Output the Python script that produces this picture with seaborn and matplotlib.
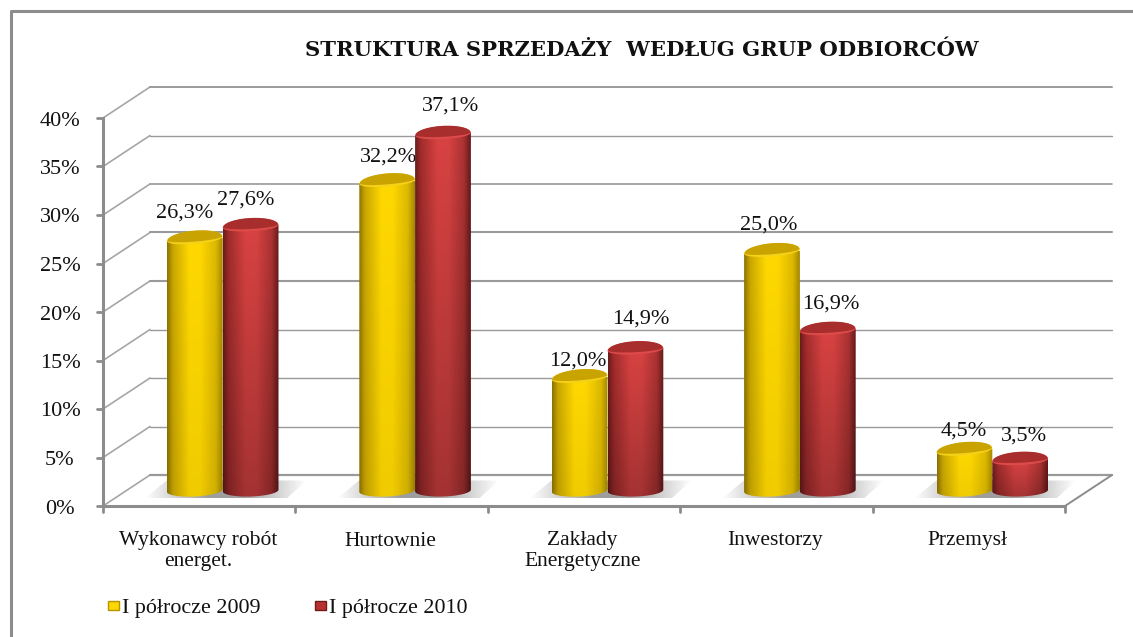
import numpy as np
import pandas as pd
import seaborn as sns
import matplotlib.pyplot as plt
from matplotlib.colors import to_rgb
from matplotlib.patches import Polygon, Rectangle

categories = ['Wykonawcy robót\nenerget.', 'Hurtownie', 'Zakłady\nEnergetyczne', 'Inwestorzy', 'Przemysł']
series_names = ['I półrocze 2009', 'I półrocze 2010']
values_2009 = [26.3, 32.2, 12.0, 25.0, 4.5]
values_2010 = [27.6, 37.1, 14.9, 16.9, 3.5]
y_ticks = [0, 5, 10, 15, 20, 25, 30, 35, 40]
title = 'STRUKTURA SPRZEDAŻY  WEDŁUG GRUP ODBIORCÓW'

W, H = 1133, 637
GREY = '#8c8c8c'
TXT = '#111111'

df = pd.DataFrame({
    'kategoria': categories * 2,
    'seria': [series_names[0]] * 5 + [series_names[1]] * 5,
    'udzial': values_2009 + values_2010,
})

sns.set_theme(style='white')
plt.rcParams['font.family'] = ['Liberation Serif', 'DejaVu Sans']

fig = plt.figure(figsize=(W / 100, H / 100), dpi=100, facecolor='white')
# axes sit in the middle depth of the fake 3d box
left, right, bottom, top = 126.5, 1088.5, 490.5, 102.5
ax = fig.add_axes([left / W, 1 - bottom / H, (right - left) / W, (bottom - top) / H])
sns.barplot(data=df, x='kategoria', y='udzial', hue='seria', order=categories, hue_order=series_names,
            width=0.58, gap=0, palette=['#ffd700', '#c83232'], legend=False, ax=ax, zorder=5)
bars = [p for p in ax.patches if p.get_height() > 0]
ax.set_xlim(-0.5, 4.5)
ax.set_ylim(0, 40)
ax.axis('off')

# px -> data
ux = 5 / (right - left)
uy = 40 / (bottom - top)
dx, dy = 23.5 * ux, 15.5 * uy

# frame of the picture
bg = fig.add_axes([0, 0, 1, 1], zorder=-1)
bg.set_xlim(0, W)
bg.set_ylim(H, 0)
bg.axis('off')
bg.plot([10.5, 10.5, W], [H, 10.5, 10.5], color=GREY, lw=2.2, solid_capstyle='butt')

# back wall, side wall and floor
grid_lw = {0: 1.6, 5: 1.0, 10: 1.0, 15: 1.0, 20: 1.5, 25: 1.5, 30: 1.2, 35: 1.0, 40: 1.4}
for t in y_ticks:
    ax.plot([-0.5 - dx, -0.5 + dx], [t - dy, t + dy], color='#a6a6a6', lw=1.2, clip_on=False, zorder=1)
    ax.plot([-0.5 + dx, 4.5 + dx], [t + dy, t + dy], color='#9a9a9a', lw=grid_lw[t], clip_on=False, zorder=1)
ax.plot([4.5 - dx, 4.5 + dx], [-dy, dy], color=GREY, lw=1.4, clip_on=False, zorder=1)

# front axes
ax.plot([-0.5 - dx, -0.5 - dx], [-dy, 40 - dy], color=GREY, lw=2.2, clip_on=False, zorder=2)
ax.plot([-0.5 - dx, 4.5 - dx], [-dy, -dy], color=GREY, lw=2.2, clip_on=False, zorder=2)
for t in y_ticks:
    ax.plot([-0.5 - dx - 6 * ux, -0.5 - dx], [t - dy, t - dy], color=GREY, lw=2, clip_on=False, zorder=2)
    ax.text(-0.5 - dx - 43 * ux, t - dy - 3 * uy, f'{t}%', ha='center', va='center', fontsize=16, color=TXT)
for i in range(6):
    ax.plot([i - 0.5 - dx] * 2, [-dy, -dy - 6 * uy], color=GREY, lw=2, clip_on=False, zorder=2)

for i, name in enumerate(categories):
    ax.text(i - dx - 1.5 * ux, -dy - 25.5 * uy, name, ha='center', va='top', fontsize=15.5, color=TXT, linespacing=1.1)

# shadows on the floor
for i in range(len(categories)):
    sx = np.array([-78, 84]) * ux + i
    alpha = np.clip(np.minimum(np.linspace(0, 1, 160), np.linspace(1, 0, 160)) * 2.6, 0, 1)
    rgba = np.ones((1, 160, 4)) * 0.62
    rgba[0, :, 3] = alpha
    sh = ax.imshow(rgba, extent=[sx[0], sx[1], -8 * uy, 10 * uy], aspect='auto', zorder=3, interpolation='bilinear')
    clip = Polygon([(i - 78 * ux, -8 * uy), (i - 56 * ux, 10 * uy), (i + 84 * ux, 10 * uy), (i + 64 * ux, -8 * uy)],
                   fill=False, edgecolor='none', transform=ax.transData)
    ax.add_patch(clip)
    sh.set_clip_box(fig.bbox)
    sh.set_clip_path(clip)

# cylinder shading
stops = [0, 0.1, 0.4, 0.6, 0.88, 1]
body_col = [['#8f7400', '#c9a600', '#ffd800', '#ffd800', '#dcb800', '#a58800'],
            ['#6e1c1c', '#a32c2c', '#d84242', '#d84242', '#ab3232', '#661a1a']]
cap_col = ['#c9a400', '#a82e2e']
rim_col = ['#f5d11a', '#dd4a4a']
tilt = [2.2, 1.4]  # px, caps lean up to the right
NX = 64
NY = 64

for k, b in enumerate(bars):
    s = 0 if k < 5 else 1
    x0, w, h = b.get_x(), b.get_width(), b.get_height()
    b.set_visible(False)
    z = 5 + s * 2
    xc = x0 + w / 2
    cy = h - 3.5 * uy

    # horizontal shading, red gets darker towards the floor
    cols = np.array([to_rgb(c) for c in body_col[s]])
    xx = np.linspace(0, 1, NX)
    row = np.stack([np.interp(xx, stops, cols[:, j]) for j in range(3)], axis=1)
    fade = np.linspace(1, 0.76 if s else 0.94, NY).reshape(-1, 1, 1)
    img = row[np.newaxis, :, :] * fade
    im = ax.imshow(img, extent=[x0, x0 + w, -8 * uy, cy], aspect='auto', zorder=z, interpolation='bilinear')
    t = np.linspace(0, np.pi, 40)
    cs, sn = np.cos(t), np.sin(t)
    low = [(xc + w / 2 * c, (-sn_ * 6 + c * tilt[s] * 0.6) * uy) for c, sn_ in zip(cs, sn)]
    clip = Polygon(low + [(x0, cy - tilt[s] * uy), (x0 + w, cy + tilt[s] * uy)], fill=False, edgecolor='none',
                   transform=ax.transData)
    ax.add_patch(clip)
    im.set_clip_box(fig.bbox)
    im.set_clip_path(clip)

    # top of the cylinder, bulged at the back and flat at the front
    tt = np.linspace(0, 2 * np.pi, 90)
    def cap(rup, rdown, shift=0.0, scale=1.0):
        ys = np.where(np.sin(tt) >= 0, rup, rdown) * np.sin(tt) + tilt[s] * np.cos(tt) + shift
        return np.column_stack([xc + scale * w / 2 * np.cos(tt), cy + ys * uy])
    ax.add_patch(Polygon(cap(8, 5), facecolor=rim_col[s], edgecolor='none', zorder=z + 0.01, clip_on=False))
    ax.add_patch(Polygon(cap(8, 3, 0.3, 0.98), facecolor=cap_col[s], edgecolor='none', zorder=z + 0.02, clip_on=False))

ax.set_xlim(-0.5, 4.5)
ax.set_ylim(0, 40)

# value labels were placed by hand in the original, offsets in px from the bar top
off_2009 = [(-10, 22), (1, 21), (-2, 13), (-3, 23), (-1, 16)]
off_2010 = [(-5, 23), (8, 25), (5, 27), (3, 23), (4, 21)]
for i, v in enumerate(values_2009):
    ax.text(i - 0.145 + off_2009[i][0] * ux, v + off_2009[i][1] * uy, f'{v:.1f}%'.replace('.', ','), ha='center',
            va='center', fontsize=16, color=TXT, zorder=6)
for i, v in enumerate(values_2010):
    ax.text(i + 0.145 + off_2010[i][0] * ux, v + off_2010[i][1] * uy, f'{v:.1f}%'.replace('.', ','), ha='center',
            va='center', fontsize=16, color=TXT, zorder=20)

# title
fig.text(642 / W, 1 - 50 / H, title, ha='center', va='center', fontsize=15.2, fontweight='bold', color=TXT,
         family=['DejaVu Serif'])

# legend
for (xp, name, c, e) in [(108, series_names[0], '#ffd700', '#b59400'), (315, series_names[1], '#b83030', '#6e1c1c')]:
    bg.add_patch(Rectangle((xp, 601), 11, 9, facecolor=c, edgecolor=e, lw=1))
    bg.text(xp + 14, 608, name, ha='left', va='center', fontsize=15.8, color=TXT)

fig.savefig('out.png', dpi=100)
